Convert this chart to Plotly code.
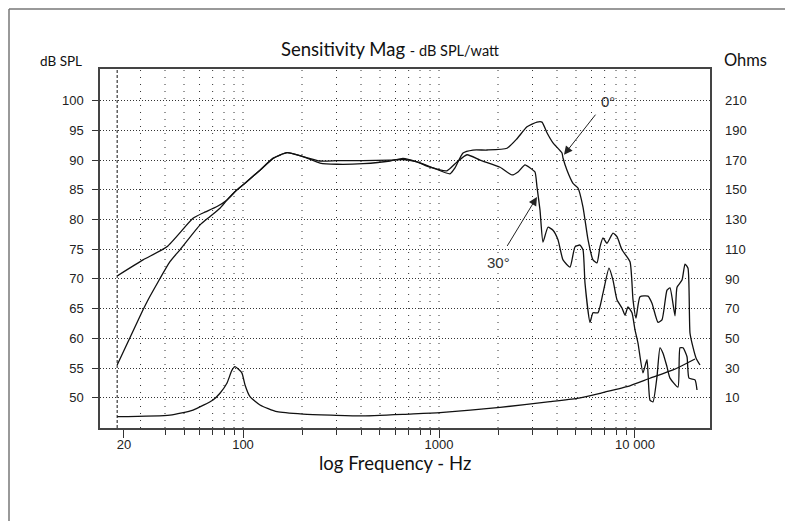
import math
import plotly.graph_objects as go

# ---- data ----
freq_0deg = [22.8, 30.9, 40.9, 55.6, 62.5, 73.7, 82.9, 93.2, 104.8, 122.1, 142.2, 167.7, 202.3,
             247.1, 301.7, 409.6, 562.3, 655, 772, 932, 1138, 1207, 1326, 1491, 1758, 2223,
             2500, 2812, 3162, 3354, 3556, 3816, 4242, 4293, 4499, 4828, 5119, 5429, 5758,
             6106, 6399, 6629, 6866, 7196, 7722, 8093, 8584, 9430, 9768, 10118, 10605, 11649,
             12208, 13099, 13732, 14565, 15087, 16000, 16382, 17373, 17996, 18641, 19080,
             19763, 20478, 21463]
spl_0deg = [70.5, 73.2, 75.4, 80.2, 81.1, 82.2, 83.3, 85.0, 86.4, 88.3, 90.3, 91.25, 90.6,
            89.85, 89.9, 89.9, 90.0, 90.1, 89.7, 88.7, 87.7, 88.7, 91.2, 91.7, 91.7, 92.0,
            93.6, 95.6, 96.4, 96.4, 94.6, 92.9, 91.2, 90.35, 88.3, 86.1, 85.3, 82.1, 76.6,
            73.2, 72.7, 75.4, 76.9, 76.0, 77.7, 77.1, 74.9, 72.9, 66.5, 63.4, 67.0, 67.1,
            65.9, 62.7, 63.1, 68.1, 68.5, 63.8, 68.6, 69.8, 72.5, 71.8, 60.9,
            58.5, 56.7, 55.5]

freq_30deg = [22.8, 30.9, 32.8, 42.4, 47.7, 60.4, 67.9, 76.3, 82.9, 93.2, 104.8, 122.1, 142.2,
              167.7, 202.3, 247.1, 301.7, 409.6, 562.3, 655, 772, 900, 1098, 1236, 1390, 1619,
              2048, 2358, 2530, 2747, 2913, 3089, 3162, 3276, 3393, 3598, 3816, 4047, 4293,
              4661, 4942, 5241, 5429, 5558, 5895, 6106, 6475, 6866, 7367, 7722, 8093, 8584,
              8892, 9211, 9654, 10000, 10359, 10985, 11512, 11925, 12353, 12946, 13413, 13895,
              14565, 15087, 16572, 16969, 17579, 18425, 18857, 20239, 20720]
spl_30deg = [55.5, 64.8, 66.5, 72.9, 74.9, 79.1, 80.5, 81.9, 83.3, 85.0, 86.4, 88.3, 90.3,
             91.25, 90.6, 89.5, 89.3, 89.4, 89.85, 90.3, 89.7, 88.8, 88.2, 89.7, 90.9, 90.0,
             88.8, 87.5, 88.0, 89.2, 88.7, 88.0, 85.5, 81.6, 76.2, 78.7, 78.2, 76.6, 73.2,
             72.0, 75.4, 75.7, 74.9, 69.3, 62.7, 64.3, 64.3, 67.6, 71.8, 69.8, 66.5, 65.1,
             63.9, 65.3, 64.3, 61.4, 59.2, 54.2, 56.4, 49.6, 49.3, 53.5, 58.4, 57.5,
             55.2, 53.3, 51.8, 58.4, 58.4, 56.9, 53.3, 53.0, 51.3]

freq_imp = [22.8, 42.4, 55.6, 70.3, 76.3, 82.9, 87.6, 91.0, 94.6, 98.8, 102.4, 108.6, 122.1,
            149.1, 202.3, 395.4, 711, 1012, 2048, 3684, 5060, 6629, 9104, 11925, 15627, 20239]
ohms_imp = [-2.8, -1.7, 1.7, 8.5, 13.0, 19.9, 28.2, 30.9, 29.3, 26.6, 18.6, 10.7, 5.1,
            0.6, -1.0, -2.3, -1.0, -0.1, 3.5, 7.3, 9.6, 13.0, 17.4, 23.1, 28.7, 36.1]

spl_ticks = [50, 55, 60, 65, 70, 75, 80, 85, 90, 95, 100]
ohm_ticks = [10, 30, 50, 70, 90, 110, 130, 150, 170, 190, 210]
x_major_vals = [24.7, 100, 1000, 10000]
x_major_text = ["20", "100", "1000", "10 000"]
x_minor_vals = [40, 50, 60, 70, 80, 90, 200, 300, 400, 500, 600, 700, 800, 900,
                2000, 3000, 4000, 5000, 6000, 7000, 8000, 9000]
x_grid_vals = [30, 40, 50, 60, 70, 80, 90, 100, 200, 300, 400, 500, 600, 700, 800, 900,
               1000, 2000, 3000, 4000, 5000, 6000, 7000, 8000, 9000, 10000]
start_freq = 22.8

# annotation anchors (frequency, dB)
arrow_0deg_head = (4343, 90.9)
arrow_30deg_head = (3162, 83.8)
label_0deg_pos = (7282, 99.8)
label_30deg_pos = (2000, 72.8)

# ---- figure geometry (page body adds an 8px offset) ----
OFF = 8
W, H = 793, 521
ML, MR, MT, MB = 100 - OFF, W - (710 - OFF), 69 - OFF, H - (428 - OFF)
PW, PH = W - ML - MR, H - MT - MB


def px(xpix):
    return (xpix - OFF - ML) / PW


def py(ypix):
    return (H - MB - (ypix - OFF)) / PH


LINE = dict(color="#111111", width=1.3, shape="spline", smoothing=0.5)
TICKFONT = dict(family="Liberation Sans, Arial, sans-serif", size=13, color="#222222")
LABFONT = "Lato, Noto Sans, sans-serif"

fig = go.Figure()
fig.add_trace(go.Scatter(x=freq_0deg, y=spl_0deg, mode="lines", line=LINE, name="0°"))
fig.add_trace(go.Scatter(x=freq_30deg, y=spl_30deg, mode="lines", line=LINE, name="30°"))
fig.add_trace(go.Scatter(x=freq_imp, y=ohms_imp, mode="lines", line=LINE, name="Impedance",
                         yaxis="y2"))

shapes = []
for g in x_grid_vals:
    shapes.append(dict(type="line", xref="x", yref="paper", x0=g, x1=g, y0=0, y1=1,
                       layer="below", line=dict(color="#333333", width=1, dash="1px,6px")))
shapes.append(dict(type="line", xref="x", yref="paper", x0=start_freq, x1=start_freq,
                   y0=0, y1=1, layer="below",
                   line=dict(color="#111111", width=1, dash="3px,2px")))
# outer frame (as close to the page corner as the figure allows)
shapes.append(dict(type="line", xref="paper", yref="paper", x0=px(9), x1=px(820),
                   y0=py(9), y1=py(9), line=dict(color="#777777", width=1.5)))
shapes.append(dict(type="line", xref="paper", yref="paper", x0=px(9), x1=px(9),
                   y0=py(9), y1=py(540), line=dict(color="#777777", width=1.5)))

lg = math.log10
annotations = [
    dict(text="Sensitivity Mag <span style='font-size:14.5px'>- dB SPL/watt</span>",
         xref="paper", yref="paper", x=px(390), y=py(49), xanchor="center", yanchor="middle",
         showarrow=False, font=dict(family=LABFONT, size=18.5, color="#111111")),
    dict(text="dB SPL", xref="paper", yref="paper", x=px(61), y=py(61), xanchor="center",
         yanchor="middle", showarrow=False, font=dict(family=LABFONT, size=13.5, color="#111111")),
    dict(text="Ohms", xref="paper", yref="paper", x=px(745), y=py(60), xanchor="center",
         yanchor="middle", showarrow=False, font=dict(family=LABFONT, size=16.5, color="#111111")),
    dict(text="log Frequency - Hz", xref="paper", yref="paper", x=px(395), y=py(463),
         xanchor="center", yanchor="middle", showarrow=False,
         font=dict(family=LABFONT, size=18.5, color="#111111")),
    # arrows
    dict(text=" ", x=lg(arrow_0deg_head[0]), y=arrow_0deg_head[1], xref="x", yref="y",
         ax=33, ay=-42, showarrow=True, arrowhead=2, arrowsize=1.7, arrowwidth=1,
         arrowcolor="#222222", font=dict(size=1), standoff=0),
    dict(text=" ", x=lg(arrow_30deg_head[0]), y=arrow_30deg_head[1], xref="x", yref="y",
         ax=-31, ay=51, showarrow=True, arrowhead=2, arrowsize=1.7, arrowwidth=1,
         arrowcolor="#222222", font=dict(size=1), standoff=0),
    dict(text="0°", x=lg(label_0deg_pos[0]), y=label_0deg_pos[1], xref="x", yref="y",
         showarrow=False, xanchor="center", yanchor="middle",
         font=dict(family="Liberation Sans, Arial, sans-serif", size=15, color="#333333")),
    dict(text="30°", x=lg(label_30deg_pos[0]), y=label_30deg_pos[1], xref="x", yref="y",
         showarrow=False, xanchor="center", yanchor="middle",
         font=dict(family="Liberation Sans, Arial, sans-serif", size=15, color="#333333")),
]

fig.update_layout(
    width=W, height=H,
    margin=dict(l=ML, r=MR, t=MT, b=MB, pad=0),
    paper_bgcolor="white", plot_bgcolor="white",
    showlegend=False,
    shapes=shapes,
    annotations=annotations,
    xaxis=dict(type="log", range=[1.2704, 4.3827], showgrid=False, zeroline=False,
               tickvals=x_major_vals, ticktext=x_major_text, ticks="outside", ticklen=8,
               tickcolor="#333333", tickwidth=1, tickfont=TICKFONT, ticklabelstandoff=-4,
               minor=dict(tickvals=x_minor_vals, ticks="outside", ticklen=5,
                          tickcolor="#333333", showgrid=False),
               showline=True, linecolor="#444444", linewidth=1.5, mirror=True),
    yaxis=dict(range=[44.9, 105.34], tickvals=spl_ticks, ticks="outside", ticklen=6,
               tickcolor="#333333", tickfont=TICKFONT, ticklabelstandoff=6,
               showgrid=True, gridcolor="#333333", gridwidth=1, griddash="1px,2px",
               zeroline=False, showline=True, linecolor="#444444", linewidth=1.5,
               mirror=True),
    yaxis2=dict(range=[-10.4, 231.4], overlaying="y", side="right", tickvals=ohm_ticks,
                ticks="", tickfont=TICKFONT, ticklabelstandoff=14, showgrid=False,
                zeroline=False, showline=False),
)

fig.write_html("out.html")
